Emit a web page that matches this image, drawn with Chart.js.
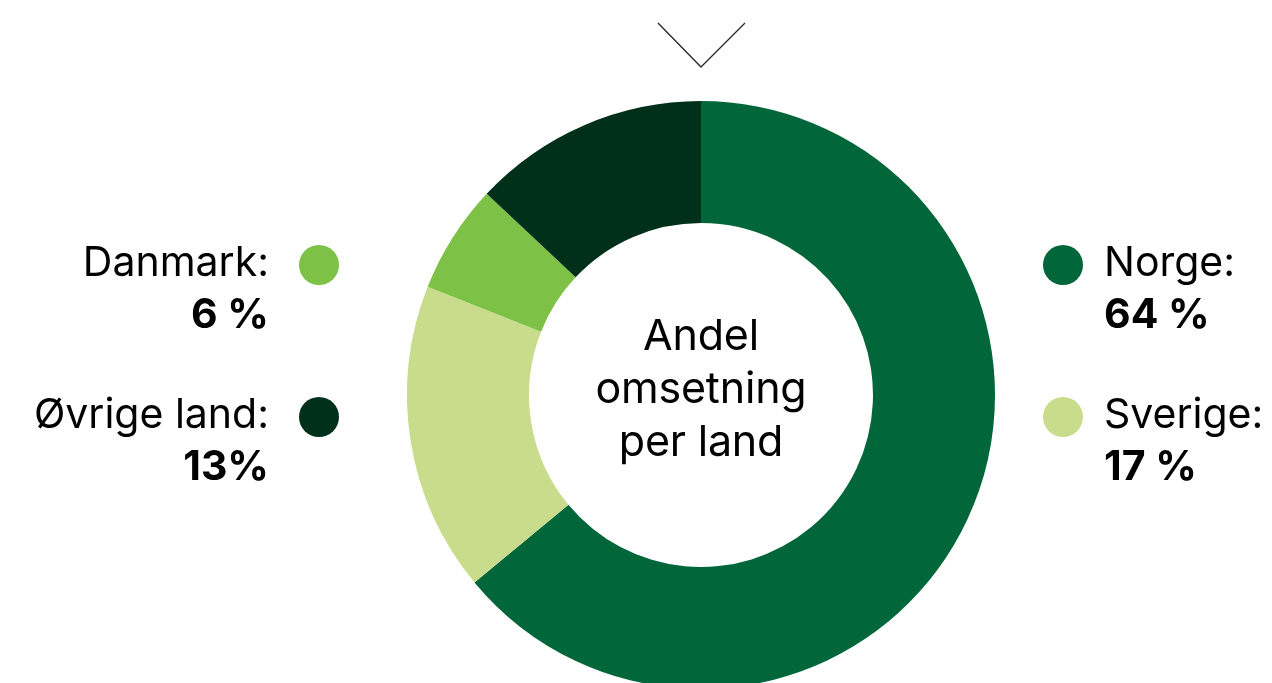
<!DOCTYPE html>
<html>
<head>
<meta charset="utf-8">
<script src="https://cdn.jsdelivr.net/npm/chart.js@4"></script>
<style>
  html, body { margin: 0; padding: 0; background: #fff; overflow: hidden; }
  body { width: 1272px; height: 683px; position: relative; font-family: 'Inter', 'Noto Sans', sans-serif; color: #000; }
  #wrap { position: absolute; left: 0; top: 0; width: 1272px; height: 700px; }
  .center-label { position: absolute; left: 501px; width: 400px; top: 308px; text-align: center; font-size: 43px; line-height: 53px; letter-spacing: -0.2px; }
  .item { position: absolute; font-size: 41px; line-height: 52px; white-space: nowrap; }
  .item b { font-weight: 750; }
  .item.left { text-align: right; }
  .dot { position: absolute; width: 40px; height: 40px; border-radius: 50%; }
  svg.marker { position: absolute; left: 0; top: 0; }
</style>
</head>
<body>
<div id="wrap"><canvas id="shareChart"></canvas></div>
<svg class="marker" width="1272" height="90"><polyline points="658,23 701,67 745,23" fill="none" stroke="#2b2b2b" stroke-width="1.4"/></svg>
<div class="center-label" id="centerLabel"></div>
<div id="legend"></div>

<script>
// ─── Data ─────────────────────────────────────────────────
const countries   = ['Norge', 'Sverige', 'Danmark', 'Øvrige land'];
const shares      = [64, 17, 6, 13];
const shareLabels = ['64 %', '17 %', '6 %', '13%'];
const colors      = ['#02663b', '#c9dc8c', '#7dc246', '#00301a'];
const centerText  = ['Andel', 'omsetning', 'per land'];

document.addEventListener('DOMContentLoaded', () => {
  renderShareChart();
  renderCenterLabel();
  renderLegend();
});

// ─── Doughnut ─────────────────────────────────────────────
function renderShareChart() {
  const ctx = document.getElementById('shareChart');
  new Chart(ctx, {
    type: 'doughnut',
    data: {
      labels: countries,
      datasets: [{
        data: shares,
        backgroundColor: colors,
        borderWidth: 0,
        hoverOffset: 0,
      }],
    },
    options: {
      responsive: true,
      maintainAspectRatio: false,
      animation: false,
      cutout: '58.5%',
      layout: { padding: { left: 407, right: 277, top: 101, bottom: 11 } },
      plugins: {
        legend: { display: false },
        tooltip: { enabled: false },
      },
    },
  });
}

// ─── Center text ──────────────────────────────────────────
function renderCenterLabel() {
  document.getElementById('centerLabel').innerHTML = centerText.join('<br>');
}

// ─── Legend (two on each side) ────────────────────────────
function renderLegend() {
  const legend = document.getElementById('legend');
  // Norge, Sverige on the right; Danmark, Øvrige on the left
  const place = [
    { side: 'right', row: 0 },
    { side: 'right', row: 1 },
    { side: 'left',  row: 0 },
    { side: 'left',  row: 1 },
  ];
  countries.forEach((name, i) => {
    const { side, row } = place[i];
    const top = 235 + row * 152;
    const item = document.createElement('div');
    item.className = 'item ' + side;
    item.innerHTML = `${name}:<br><b>${shareLabels[i]}</b>`;
    item.style.top = top + 'px';
    if (side === 'left') item.style.right = (1272 - 269) + 'px';
    else item.style.left = '1104px';
    legend.appendChild(item);

    const dot = document.createElement('div');
    dot.className = 'dot';
    dot.style.background = colors[i];
    dot.style.top = (245 + row * 152) + 'px';
    dot.style.left = (side === 'left' ? 299 : 1043) + 'px';
    legend.appendChild(dot);
  });
}
</script>
</body>
</html>
